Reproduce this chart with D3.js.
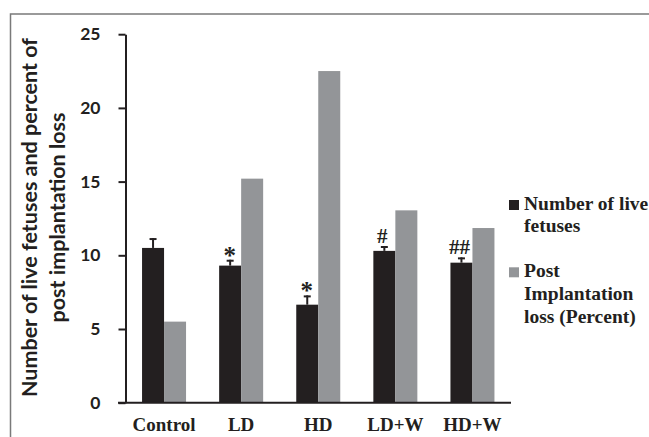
<!DOCTYPE html>
<html>
<head>
<meta charset="utf-8">
<script src="https://cdn.jsdelivr.net/npm/d3@7"></script>
<style>
  html, body { margin: 0; padding: 0; background: #fff; }
  svg { display: block; }
</style>
</head>
<body>
<svg id="chart" width="649" height="437"></svg>
<script>
// ---- data ----
const categories = ["Control", "LD", "HD", "LD+W", "HD+W"];
const seriesNames = ["Number of live fetuses", "Post Implantation loss (Percent)"];
const liveFetuses = [10.5, 9.3, 6.65, 10.3, 9.5];
const liveFetusesErr = [0.67, 0.4, 0.63, 0.33, 0.36];
const postLoss = [5.5, 15.2, 22.5, 13.05, 11.85];
const significance = ["", "*", "*", "#", "##"];
const yTicks = [0, 5, 10, 15, 20, 25];

// ---- layout ----
const svg = d3.select("#chart");
const black = "#231f20", gray = "#939598";
const y0px = 402.7, y25px = 34.2;
const xLeft = 125.5, xRight = 511;

const y = d3.scaleLinear().domain([0, 25]).range([y0px, y25px]);
const x = d3.scaleBand().domain(categories).range([xLeft, xRight]).padding(0);
const groupW = 44;
const x1 = d3.scaleBand().domain(seriesNames).range([0, groupW]).padding(0);
const off = (x.bandwidth() - groupW) / 2;

// frame
svg.append("rect").attr("x", 10.5).attr("y", 14).attr("width", 700).attr("height", 500)
  .attr("fill", "none").attr("stroke", "#7a7a7a").attr("stroke-width", 1.5);

// bars
const rows = categories.map((c, i) => ({ c, vals: [liveFetuses[i], postLoss[i]], err: liveFetusesErr[i], sig: significance[i] }));
const g = svg.append("g");
rows.forEach(r => {
  r.vals.forEach((v, j) => {
    g.append("rect")
      .attr("x", x(r.c) + off + x1(seriesNames[j]))
      .attr("y", y(v))
      .attr("width", x1.bandwidth())
      .attr("height", y(0) - y(v))
      .attr("fill", j === 0 ? black : gray);
  });
  // error bar on black bar
  const cx = x(r.c) + off + x1(seriesNames[0]) + x1.bandwidth() / 2;
  const top = y(r.vals[0] + r.err);
  g.append("line").attr("x1", cx).attr("x2", cx).attr("y1", y(r.vals[0])).attr("y2", top)
    .attr("stroke", black).attr("stroke-width", 2);
  g.append("line").attr("x1", cx - 3.5).attr("x2", cx + 3.5).attr("y1", top + 1).attr("y2", top + 1)
    .attr("stroke", black).attr("stroke-width", 2);
  if (r.sig) {
    const isStar = r.sig === "*";
    g.append("text")
      .attr("x", cx - (isStar ? 0.5 : 2))
      .attr("y", isStar ? top + 4 : top - 3.5)
      .attr("text-anchor", "middle")
      .attr("font-family", "'Liberation Serif', 'Times New Roman', serif")
      .attr("font-weight", "bold")
      .attr("font-size", isStar ? 25 : 21)
      .attr("fill", black)
      .text(r.sig);
  }
});

// y axis
const yAxis = d3.axisLeft(y).tickValues(yTicks).tickSize(7).tickPadding(18).tickSizeOuter(0);
const ya = svg.append("g").attr("transform", `translate(${xLeft},0)`).call(yAxis);
ya.select(".domain").attr("stroke", black).attr("stroke-width", 2);
ya.selectAll(".tick line").attr("stroke", black).attr("stroke-width", 2);
ya.selectAll(".tick text").attr("font-family", "Lato, 'Open Sans', sans-serif")
  .attr("font-weight", "bold").attr("font-size", 17.5).attr("fill", black);

// x axis
const xAxis = d3.axisBottom(x).tickSize(0).tickSizeOuter(0);
const xa = svg.append("g").attr("transform", `translate(0,${y0px})`).call(xAxis);
xa.select(".domain").remove();
xa.append("line").attr("x1", xLeft - 7.5).attr("x2", xRight).attr("y1", 0).attr("y2", 0)
  .attr("stroke", black).attr("stroke-width", 2);
xa.selectAll(".tick text").attr("y", 28.8).attr("dy", 0)
  .attr("font-family", "'Liberation Serif', 'Times New Roman', serif")
  .attr("font-weight", "bold").attr("font-size", 19).attr("fill", black);

// y title
const yt = svg.append("text").attr("transform", "translate(37,217.5) rotate(-90)")
  .attr("text-anchor", "middle")
  .attr("font-family", "Lato, 'Open Sans', sans-serif")
  .attr("font-weight", "bold").attr("font-size", 21.5).attr("fill", black);
yt.append("tspan").attr("x", 0).attr("y", 0).text("Number of live fetuses and percent of");
yt.append("tspan").attr("x", 0).attr("y", 27.5).text("post implantation loss");

// legend
const legend = [
  { color: black, sq: 200, lines: ["Number of live", "fetuses"], base: 209.5 },
  { color: gray, sq: 267.3, lines: ["Post", "Implantation", "loss (Percent)"], base: 277.3 }
];
legend.forEach(l => {
  svg.append("rect").attr("x", 509).attr("y", l.sq).attr("width", 10).attr("height", 10).attr("fill", l.color);
  const t = svg.append("text")
    .attr("font-family", "'Liberation Serif', 'Times New Roman', serif")
    .attr("font-weight", "bold").attr("font-size", 19.5).attr("fill", black);
  l.lines.forEach((s, k) => t.append("tspan").attr("x", 524).attr("y", l.base + k * 22.7).text(s));
});
</script>
</body>
</html>
